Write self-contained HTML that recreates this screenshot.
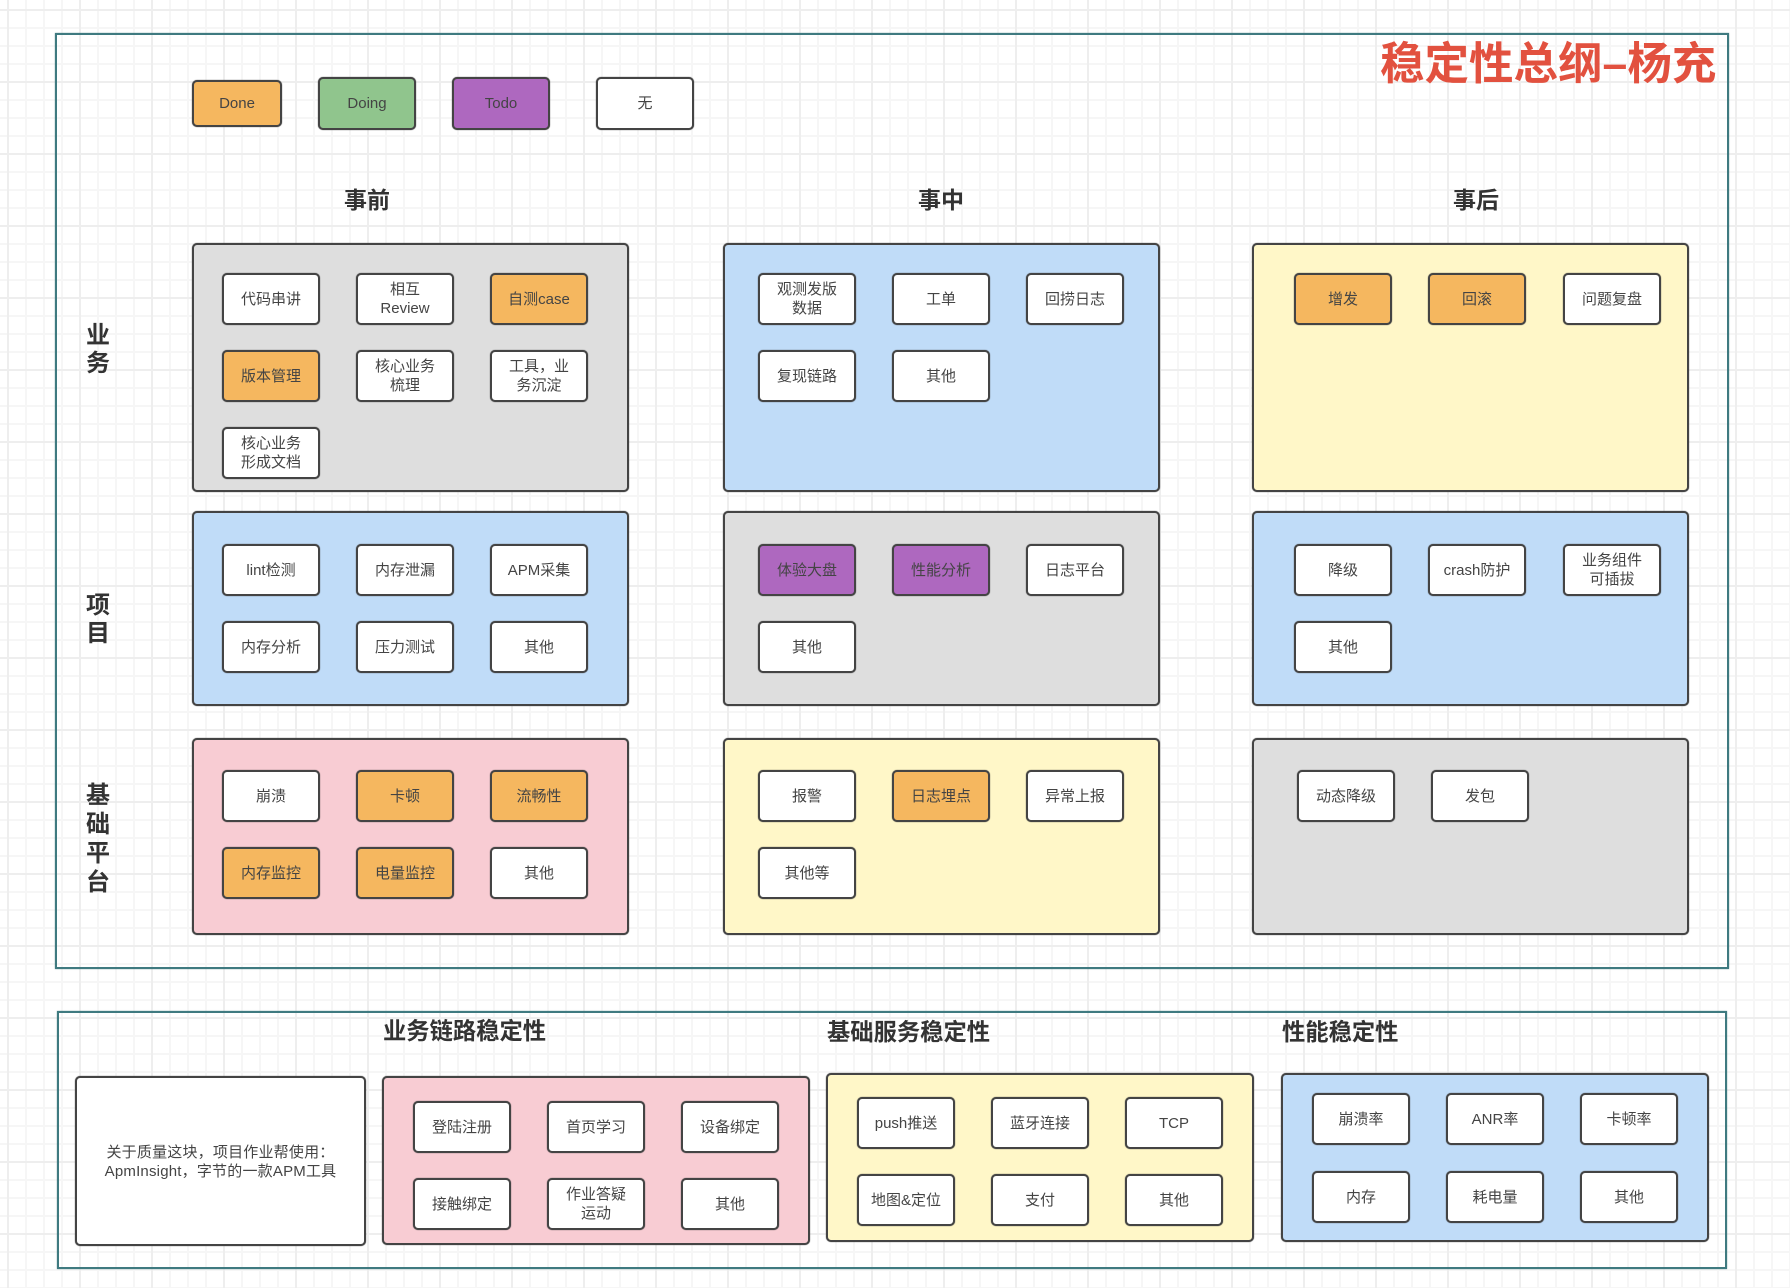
<!DOCTYPE html>
<html lang="zh">
<head>
<meta charset="utf-8">
<title>稳定性总纲</title>
<style>
html,body{margin:0;padding:0}
body{width:1790px;height:1288px;position:relative;overflow:hidden;background-color:#fff;
font-family:"Liberation Sans","Noto Sans CJK SC",sans-serif;color:#444;
background-image:
linear-gradient(to right,#eeeeee 2px,transparent 2px),
linear-gradient(to bottom,#eeeeee 2px,transparent 2px),
linear-gradient(to right,#f6f6f6 2px,transparent 2px),
linear-gradient(to bottom,#f6f6f6 2px,transparent 2px);
background-size:72px 72px,72px 72px,18px 18px,18px 18px;
background-position:7px 0,0 9px,7px 0,0 9px}
div{box-sizing:border-box;position:absolute}
.f{border:2px solid #3f7a80;box-shadow:0 0 1px rgba(63,122,128,.8)}
.p{border:2px solid #444;border-radius:5px;box-shadow:0 0 1px rgba(68,68,68,.9)}
.b{width:98px;height:52px;border:2px solid #444;border-radius:5px;box-shadow:0 0 1px rgba(68,68,68,.9);background:#fff;display:flex;align-items:center;justify-content:center;text-align:center;font-size:15px;line-height:19px;padding:0 6px}
.o{background:#f5b75f}.u{background:#ae68bf}.g{background:#90c58d}
.gr{background:#dedede}.bl{background:#c0dcf8}.ye{background:#fff7c8}.pk{background:#f8ccd3}
.h{font-weight:bold;font-size:23px;line-height:30px;white-space:nowrap;color:#333}
.t{font-size:23.3px}
.v{font-weight:bold;font-size:24px;line-height:28px;width:30px;text-align:center;color:#333}
</style>
</head>
<body>
<div class="f" style="left:55px;top:33px;width:1674px;height:936px"></div>
<div class="f" style="left:57px;top:1011px;width:1670px;height:258px"></div>

<div style="left:1380px;top:37px;font-size:44.5px;line-height:56px;font-weight:bold;color:#e2513f;white-space:nowrap">稳定性总纲–杨充</div>

<div class="b o" style="left:192px;top:80px;width:90px;height:47px">Done</div>
<div class="b g" style="left:318px;top:77px;height:53px">Doing</div>
<div class="b u" style="left:452px;top:77px;height:53px">Todo</div>
<div class="b" style="left:596px;top:77px;height:53px">无</div>

<div class="h" style="left:344px;top:185px">事前</div>
<div class="h" style="left:918px;top:185px">事中</div>
<div class="h" style="left:1453px;top:185px">事后</div>

<div class="v" style="left:83px;top:322px">业<br>务</div>
<div class="v" style="left:83px;top:592px">项<br>目</div>
<div class="v" style="left:83px;top:781px;line-height:29px">基<br>础<br>平<br>台</div>

<!-- panels row 1 -->
<div class="p gr" style="left:192px;top:243px;width:437px;height:249px"></div>
<div class="p bl" style="left:723px;top:243px;width:437px;height:249px"></div>
<div class="p ye" style="left:1252px;top:243px;width:437px;height:249px"></div>
<!-- panels row 2 -->
<div class="p bl" style="left:192px;top:511px;width:437px;height:195px"></div>
<div class="p gr" style="left:723px;top:511px;width:437px;height:195px"></div>
<div class="p bl" style="left:1252px;top:511px;width:437px;height:195px"></div>
<!-- panels row 3 -->
<div class="p pk" style="left:192px;top:738px;width:437px;height:197px"></div>
<div class="p ye" style="left:723px;top:738px;width:437px;height:197px"></div>
<div class="p gr" style="left:1252px;top:738px;width:437px;height:197px"></div>

<!-- row 1 col 1 -->
<div class="b" style="left:222px;top:273px">代码串讲</div>
<div class="b" style="left:356px;top:273px">相互<br>Review</div>
<div class="b o" style="left:490px;top:273px">自测case</div>
<div class="b o" style="left:222px;top:350px">版本管理</div>
<div class="b" style="left:356px;top:350px">核心业务<br>梳理</div>
<div class="b" style="left:490px;top:350px">工具，业<br>务沉淀</div>
<div class="b" style="left:222px;top:427px">核心业务<br>形成文档</div>
<!-- row 1 col 2 -->
<div class="b" style="left:758px;top:273px">观测发版<br>数据</div>
<div class="b" style="left:892px;top:273px">工单</div>
<div class="b" style="left:1026px;top:273px">回捞日志</div>
<div class="b" style="left:758px;top:350px">复现链路</div>
<div class="b" style="left:892px;top:350px">其他</div>
<!-- row 1 col 3 -->
<div class="b o" style="left:1294px;top:273px">增发</div>
<div class="b o" style="left:1428px;top:273px">回滚</div>
<div class="b" style="left:1563px;top:273px">问题复盘</div>

<!-- row 2 col 1 -->
<div class="b" style="left:222px;top:544px">lint检测</div>
<div class="b" style="left:356px;top:544px">内存泄漏</div>
<div class="b" style="left:490px;top:544px">APM采集</div>
<div class="b" style="left:222px;top:621px">内存分析</div>
<div class="b" style="left:356px;top:621px">压力测试</div>
<div class="b" style="left:490px;top:621px">其他</div>
<!-- row 2 col 2 -->
<div class="b u" style="left:758px;top:544px">体验大盘</div>
<div class="b u" style="left:892px;top:544px">性能分析</div>
<div class="b" style="left:1026px;top:544px">日志平台</div>
<div class="b" style="left:758px;top:621px">其他</div>
<!-- row 2 col 3 -->
<div class="b" style="left:1294px;top:544px">降级</div>
<div class="b" style="left:1428px;top:544px">crash防护</div>
<div class="b" style="left:1563px;top:544px">业务组件<br>可插拔</div>
<div class="b" style="left:1294px;top:621px">其他</div>

<!-- row 3 col 1 -->
<div class="b" style="left:222px;top:770px">崩溃</div>
<div class="b o" style="left:356px;top:770px">卡顿</div>
<div class="b o" style="left:490px;top:770px">流畅性</div>
<div class="b o" style="left:222px;top:847px">内存监控</div>
<div class="b o" style="left:356px;top:847px">电量监控</div>
<div class="b" style="left:490px;top:847px">其他</div>
<!-- row 3 col 2 -->
<div class="b" style="left:758px;top:770px">报警</div>
<div class="b o" style="left:892px;top:770px">日志埋点</div>
<div class="b" style="left:1026px;top:770px">异常上报</div>
<div class="b" style="left:758px;top:847px">其他等</div>
<!-- row 3 col 3 -->
<div class="b" style="left:1297px;top:770px">动态降级</div>
<div class="b" style="left:1431px;top:770px">发包</div>

<!-- bottom -->
<div class="h t" style="left:383px;top:1016px">业务链路稳定性</div>
<div class="h t" style="left:827px;top:1017px">基础服务稳定性</div>
<div class="h t" style="left:1282px;top:1017px">性能稳定性</div>

<div class="p" style="left:75px;top:1076px;width:291px;height:170px;background:#fff;display:flex;align-items:center;justify-content:center;text-align:center;font-size:15px;letter-spacing:.2px;line-height:19px;padding:2px 6px 0">关于质量这块，项目作业帮使用：<br>ApmInsight，字节的一款APM工具</div>

<div class="p pk" style="left:382px;top:1076px;width:428px;height:169px"></div>
<div class="b" style="left:413px;top:1101px">登陆注册</div>
<div class="b" style="left:547px;top:1101px">首页学习</div>
<div class="b" style="left:681px;top:1101px">设备绑定</div>
<div class="b" style="left:413px;top:1178px">接触绑定</div>
<div class="b" style="left:547px;top:1178px">作业答疑<br>运动</div>
<div class="b" style="left:681px;top:1178px">其他</div>

<div class="p ye" style="left:826px;top:1073px;width:428px;height:169px"></div>
<div class="b" style="left:857px;top:1097px">push推送</div>
<div class="b" style="left:991px;top:1097px">蓝牙连接</div>
<div class="b" style="left:1125px;top:1097px">TCP</div>
<div class="b" style="left:857px;top:1174px">地图&amp;定位</div>
<div class="b" style="left:991px;top:1174px">支付</div>
<div class="b" style="left:1125px;top:1174px">其他</div>

<div class="p bl" style="left:1281px;top:1073px;width:428px;height:169px"></div>
<div class="b" style="left:1312px;top:1093px">崩溃率</div>
<div class="b" style="left:1446px;top:1093px">ANR率</div>
<div class="b" style="left:1580px;top:1093px">卡顿率</div>
<div class="b" style="left:1312px;top:1171px">内存</div>
<div class="b" style="left:1446px;top:1171px">耗电量</div>
<div class="b" style="left:1580px;top:1171px">其他</div>
</body>
</html>
